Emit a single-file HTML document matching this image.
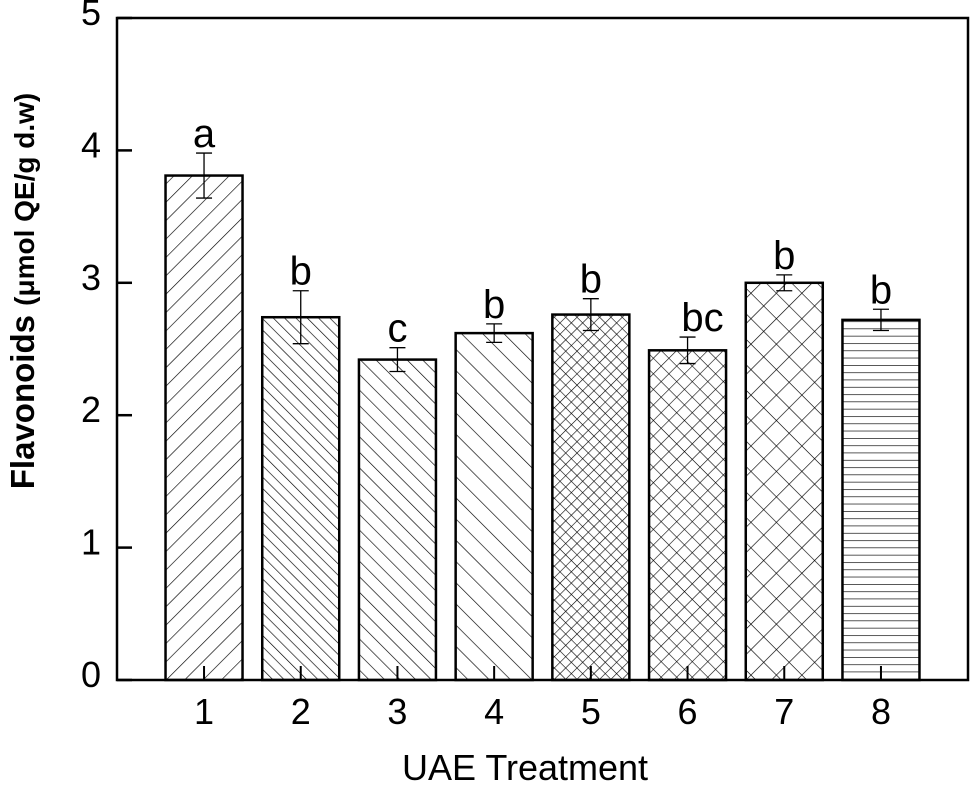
<!DOCTYPE html>
<html><head><meta charset="utf-8"><style>
body{margin:0;background:#fff;}
svg{display:block;font-family:"Liberation Sans",Arial,sans-serif;}
</style></head><body>
<svg id="chart" width="975" height="788">
<defs>
<pattern id="p1" width="13" height="13" patternUnits="userSpaceOnUse" patternTransform="rotate(45)"><line x1="0" y1="0" x2="0" y2="13" stroke="#000" stroke-width="1.3"/></pattern>
<pattern id="p2" width="8" height="8" patternUnits="userSpaceOnUse" patternTransform="rotate(-45)"><line x1="0" y1="0" x2="0" y2="8" stroke="#000" stroke-width="1.3"/></pattern>
<pattern id="p3" width="11" height="11" patternUnits="userSpaceOnUse" patternTransform="rotate(-45)"><line x1="0" y1="0" x2="0" y2="11" stroke="#000" stroke-width="1.3"/></pattern>
<pattern id="p4" width="15" height="15" patternUnits="userSpaceOnUse" patternTransform="rotate(-45)"><line x1="0" y1="0" x2="0" y2="15" stroke="#000" stroke-width="1.3"/></pattern>
<pattern id="p5" width="8" height="8" patternUnits="userSpaceOnUse" patternTransform="rotate(45)"><line x1="0" y1="0" x2="0" y2="8" stroke="#000" stroke-width="1.2"/><line x1="0" y1="0" x2="8" y2="0" stroke="#000" stroke-width="1.2"/></pattern>
<pattern id="p6" width="11" height="11" patternUnits="userSpaceOnUse" patternTransform="rotate(45)"><line x1="0" y1="0" x2="0" y2="11" stroke="#000" stroke-width="1.2"/><line x1="0" y1="0" x2="11" y2="0" stroke="#000" stroke-width="1.2"/></pattern>
<pattern id="p7" width="18" height="18" patternUnits="userSpaceOnUse" patternTransform="rotate(45)"><line x1="0" y1="0" x2="0" y2="18" stroke="#000" stroke-width="1.3"/><line x1="0" y1="0" x2="18" y2="0" stroke="#000" stroke-width="1.3"/></pattern>
<pattern id="p8" width="7" height="7.3" patternUnits="userSpaceOnUse"><line x1="0" y1="0" x2="7" y2="0" stroke="#000" stroke-width="1.3"/></pattern>
</defs>
<g id="plot"></g>
<text x="525" y="780" font-size="36" text-anchor="middle">UAE Treatment</text>
<text transform="translate(34,291) rotate(-90)" font-size="33" font-weight="bold" text-anchor="middle">Flavonoids <tspan font-size="28">(μmol QE/g d.w)</tspan></text>
</svg>
<script>
const categories = ["1","2","3","4","5","6","7","8"];
const values = [3.81, 2.74, 2.42, 2.62, 2.76, 2.49, 3.00, 2.72];
const errors = [0.17, 0.20, 0.09, 0.07, 0.12, 0.10, 0.06, 0.08];
const letters = ["a","b","c","b","b","bc","b","b"];
const yTicks = [0,1,2,3,4,5];

const NS="http://www.w3.org/2000/svg";
const g=document.getElementById('plot');
const L=117,R=968,T=18,B=680;
const xMin=0.1,xMax=8.9;
const x=v=>L+(v-xMin)/(xMax-xMin)*(R-L);
const y=v=>B-(v/5)*(B-T);
const bw=77;
function mk(tag,attrs){const e=document.createElementNS(NS,tag);for(const k in attrs)e.setAttribute(k,attrs[k]);g.appendChild(e);return e;}

categories.forEach((c,i)=>{
  const cx=x(i+1);
  const r=mk('rect',{x:cx-bw/2,y:y(values[i]),width:bw,height:B-y(values[i]),fill:'url(#p'+(i+1)+')',stroke:'#000','stroke-width':2.5});
  
  
  const e1=mk('line',{x1:cx,x2:cx,y1:y(values[i]+errors[i]),y2:y(values[i]-errors[i]),stroke:'#000','stroke-width':1.3});
  
  
  mk('line',{x1:cx-8,x2:cx+8,y1:y(values[i]+errors[i]),y2:y(values[i]+errors[i]),stroke:'#000','stroke-width':1.3});
  mk('line',{x1:cx-8,x2:cx+8,y1:y(values[i]-errors[i]),y2:y(values[i]-errors[i]),stroke:'#000','stroke-width':1.3});
  const lt=mk('text',{x:cx+(letters[i].length>1?15:0),y:y(values[i]+errors[i])-6,'font-size':40,'text-anchor':'middle'});
  lt.textContent=letters[i];
  
  
  mk('line',{x1:cx,x2:cx,y1:B,y2:B-14,stroke:'#000','stroke-width':2});
  const tl=mk('text',{x:cx,y:724,'font-size':36,'text-anchor':'middle'});
  tl.textContent=c;
  
  
});
yTicks.forEach(t=>{
  mk('line',{x1:L,x2:L+15,y1:y(t),y2:y(t),stroke:'#000','stroke-width':2.5});
  const tl=mk('text',{x:101,y:y(t)+7,'font-size':36,'text-anchor':'end'});
  tl.textContent=t;
  
  
});
const ax=mk('rect',{x:L,y:T,width:R-L,height:B-T,fill:'none',stroke:'#000','stroke-width':2.5});


</script>
</body></html>
